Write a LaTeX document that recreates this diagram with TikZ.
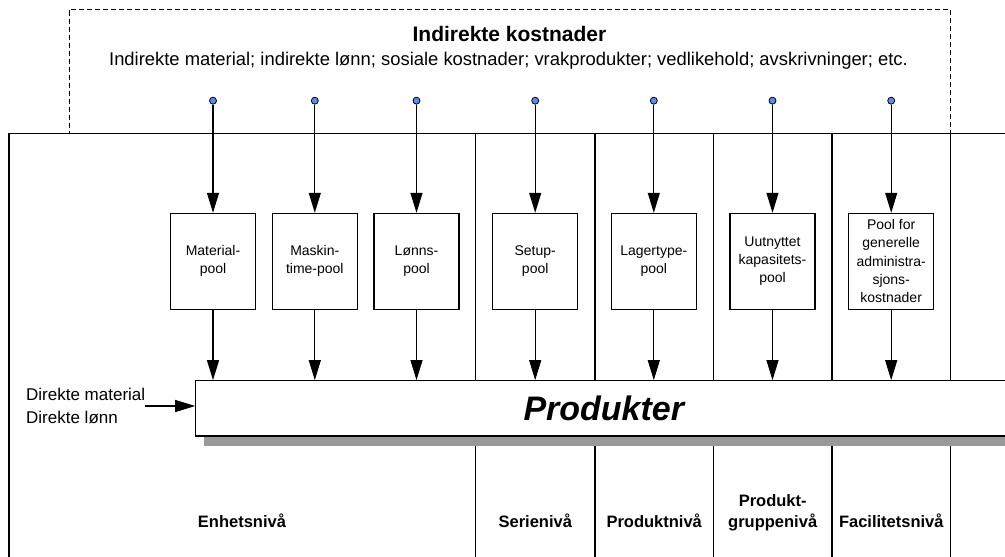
\documentclass[tikz,border=0pt]{standalone}
\usepackage{fontspec}
\setmainfont{Liberation Sans}
\usepackage{xcolor}
\usepackage{tikz}
\usetikzlibrary{arrows.meta,positioning,shadows}
\definecolor{dotblue}{HTML}{5B8DEF}
\definecolor{shadowgray}{HTML}{999999}

\begin{document}
\begin{tikzpicture}[
  x=1pt, y=-1pt,
  pool/.style={rectangle, draw, line width=1.1pt, minimum width=85pt, minimum height=95.7pt, align=center, inner sep=1pt, font=\fontsize{14}{18.3}\selectfont},
  srcdot/.style={circle, draw, fill=dotblue, minimum size=7pt, inner sep=0pt, line width=0.8pt},
  arr/.style={-{Triangle[length=20pt, width=12pt]}, line width=1.1pt},
  level/.style={font=\bfseries\fontsize{16.5}{21}\selectfont, align=center, anchor=south, inner sep=0pt, text depth=0pt},
  divider/.style={line width=1.2pt}
]
\useasboundingbox (0,0) rectangle (1005,557);

% Top: indirect costs
\node[draw, dashed, dash pattern=on 5pt off 3pt, line width=0.9pt, minimum width=881.7pt, minimum height=123.6pt] (indir) at (509.85,71.3) {};
\node[font=\bfseries\fontsize{21}{25}\selectfont, anchor=base, inner sep=0pt] (title) at (509.5,41.3) {Indirekte kostnader};
\node[font=\fontsize{18.4}{22}\selectfont, anchor=base, inner sep=0pt] (sub) at (508.5,65.7) {Indirekte material; indirekte lønn; sosiale kostnader; vrakprodukter; vedlikehold; avskrivninger; etc.};

% Frame and level dividers
\draw[divider] (1005,133.5) -- (9,133.5) -- (9,557);
\draw[divider] (475.7,133.5) -- (475.7,557);
\draw[divider] (595,133.5) -- (595,557);
\draw[divider] (713.3,133.5) -- (713.3,557);
\draw[divider] (832,133.5) -- (832,557);
\draw[divider] (950.7,133.5) -- (950.7,557);

% Source dots
\node[srcdot] (d1) at (213,100.7) {};
\node[srcdot] (d2) at (314.8,100.7) {};
\node[srcdot] (d3) at (416.5,100.7) {};
\node[srcdot] (d4) at (535.2,100.7) {};
\node[srcdot] (d5) at (653.8,100.7) {};
\node[srcdot] (d6) at (772.5,100.7) {};
\node[srcdot] (d7) at (891.2,100.7) {};

% Cost pools
\node[pool] (p1) at (213,261.2) {Material-\\pool};
\node[pool] (p2) at (314.8,261.2) {Maskin-\\time-pool};
\node[pool] (p3) at (416.5,261.2) {Lønns-\\pool};
\node[pool] (p4) at (535.2,261.2) {Setup-\\pool};
\node[pool] (p5) at (653.8,261.2) {Lagertype-\\pool};
\node[pool] (p6) at (772.5,261.2) {Uutnyttet\\kapasitets-\\pool};
\node[pool] (p7) at (891.2,261.2) {Pool for\\generelle\\administra-\\sjons-\\kostnader};
\draw[arr] (d1) -- (p1);
\draw[arr] (d2) -- (p2);
\draw[arr] (d3) -- (p3);
\draw[arr] (d4) -- (p4);
\draw[arr] (d5) -- (p5);
\draw[arr] (d6) -- (p6);
\draw[arr] (d7) -- (p7);

% Products
\node[draw, fill=white, line width=1.2pt, minimum width=816pt, minimum height=55.3pt, inner sep=0pt,
  drop shadow={shadow xshift=8pt, shadow yshift=-10pt, fill=shadowgray, opacity=1},
  font=\bfseries\itshape\fontsize{34}{40}\selectfont] (prod) at (603.8,408.4) {Produkter};
\draw[arr] (p1) -- (p1 |- prod.north);
\draw[arr] (p2) -- (p2 |- prod.north);
\draw[arr] (p3) -- (p3 |- prod.north);
\draw[arr] (p4) -- (p4 |- prod.north);
\draw[arr] (p5) -- (p5 |- prod.north);
\draw[arr] (p6) -- (p6 |- prod.north);
\draw[arr] (p7) -- (p7 |- prod.north);

% Direct costs
\node[font=\fontsize{17}{22.3}\selectfont, align=left, anchor=west, inner sep=0pt] (direkte) at (26,406) {Direkte material\\Direkte lønn};
\draw[arr] (direkte.east) -- (direkte.east -| prod.west);

% Levels
\node[level] (enhet) at (242,527.7) {Enhetsnivå};
\node[level] (serie) at (535.3,527.7) {Serienivå};
\node[level] (produkt) at (654.2,527.7) {Produktnivå};
\node[level] (gruppe) at (772.7,527.7) {Produkt-\\gruppenivå};
\node[level] (facilitet) at (891.3,527.7) {Facilitetsnivå};

\end{tikzpicture}
\end{document}
